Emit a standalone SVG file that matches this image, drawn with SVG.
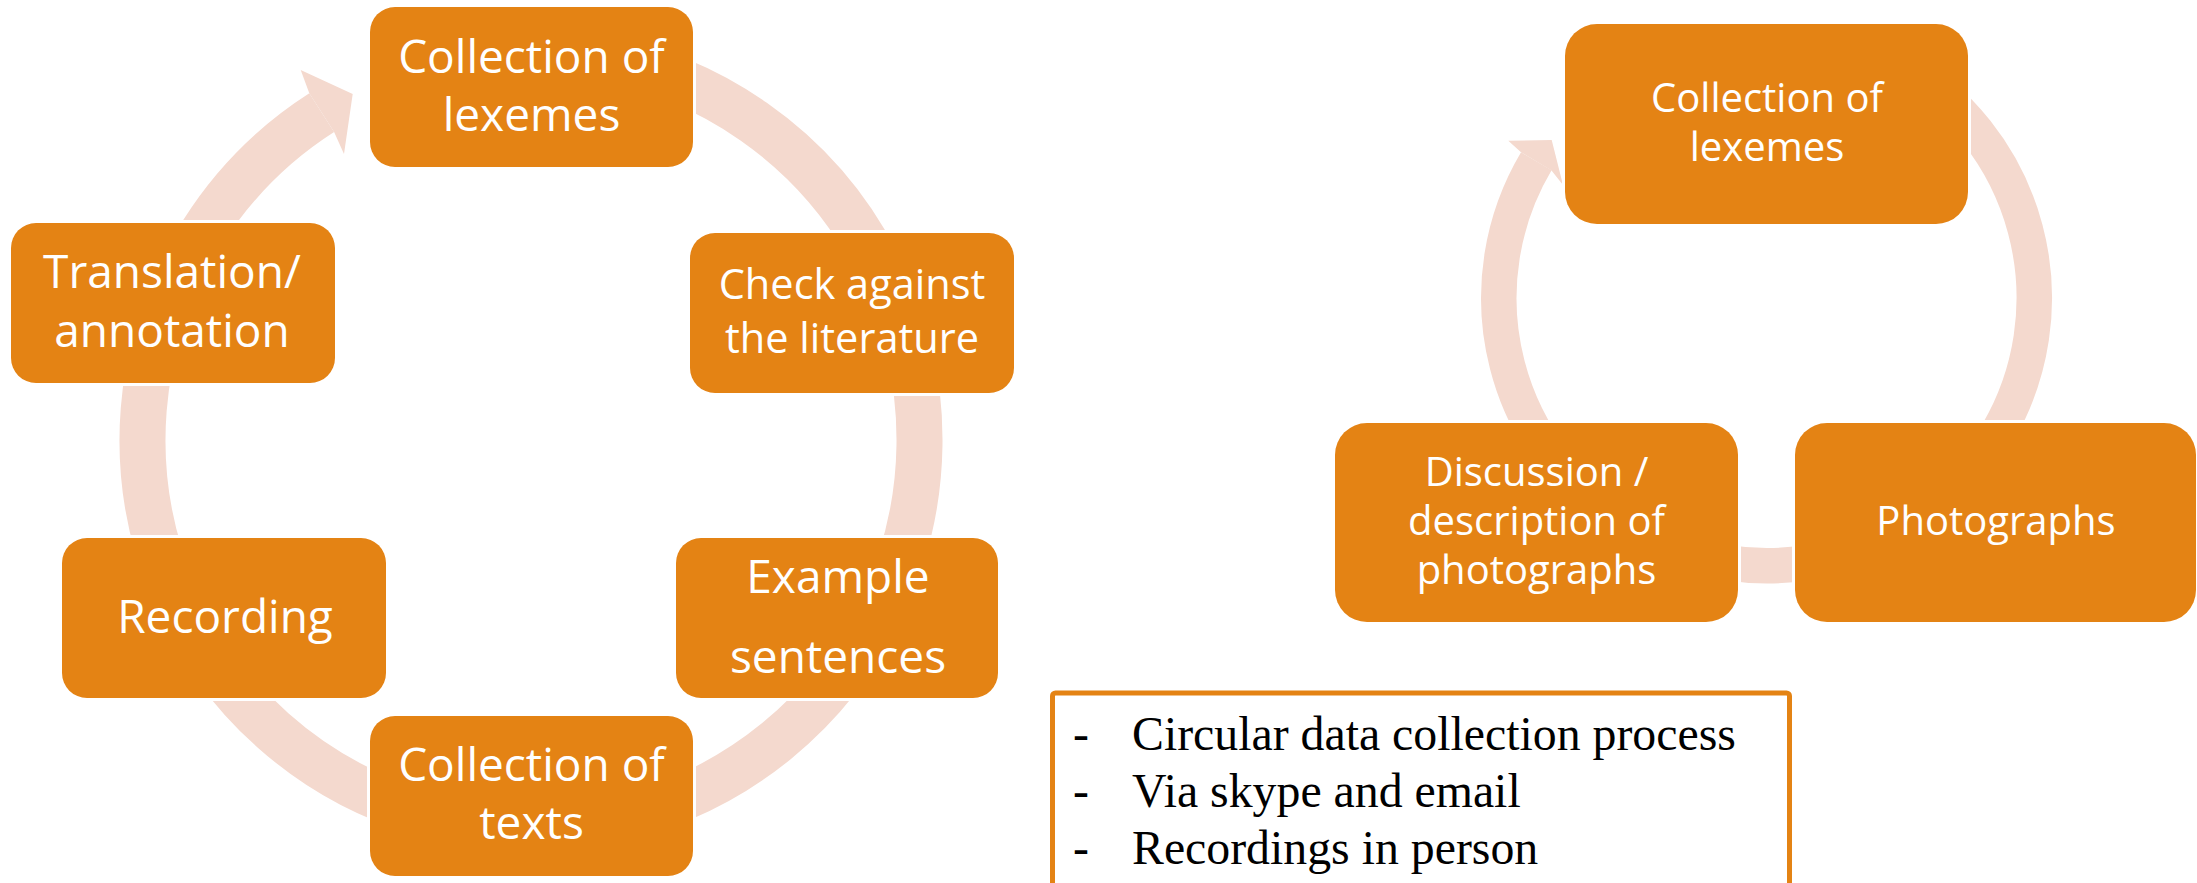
<svg xmlns="http://www.w3.org/2000/svg" width="2197" height="883" viewBox="0 0 2197 883">
<style>
.ring{fill:none;stroke:#F4D9CE;stroke-linecap:butt}
.head{fill:#F4D9CE}
.node rect{fill:#E48314;stroke:#FFFFFF;stroke-width:6;paint-order:stroke}
.lbl{font-family:"Open Sans","Liberation Sans",sans-serif;fill:#FFFFFF;text-anchor:middle}
.l1{font-size:46px}
.l2{font-size:41.5px}
.r{font-size:40px}
.note{font-family:"Liberation Serif","Times New Roman",serif;font-size:47.8px;fill:#000000}
</style>
<rect x="0" y="0" width="2197" height="883" fill="#FFFFFF"/>
<g id="connectors">
  <path class="ring" stroke-width="46" d="M598.5,57.4 A388.5,388.5 0 1 1 321.7,112.7"/>
  <polygon class="head" points="309.3,93.3 300.7,70 352.7,94 344,154 334.1,132.1"/>
  <path class="ring" stroke-width="35.5" d="M1900.4,66.1 A267.75,267.75 0 1 1 1536.3,161.3"/>
  <polygon class="head" points="1521,152.3 1508.3,140.7 1551.7,140 1563,185 1551.5,170.4"/>
</g>
<g id="node-lexemes-left" class="node">
  <rect x="370" y="7" width="323" height="160" rx="25" ry="25"/>
  <text class="lbl l1"><tspan x="531.5" y="73">Collection of</tspan><tspan x="531.5" y="131">lexemes</tspan></text>
</g>
<g id="node-check" class="node">
  <rect x="690" y="233" width="324" height="160" rx="25" ry="25"/>
  <text class="lbl l2"><tspan x="852" y="299">Check against</tspan><tspan x="852" y="353">the literature</tspan></text>
</g>
<g id="node-example" class="node">
  <rect x="676" y="538" width="322" height="160" rx="25" ry="25"/>
  <text class="lbl l1"><tspan x="838" y="593">Example</tspan><tspan x="838" y="673">sentences</tspan></text>
</g>
<g id="node-texts" class="node">
  <rect x="370" y="716" width="323" height="160" rx="25" ry="25"/>
  <text class="lbl l1"><tspan x="531.5" y="781">Collection of</tspan><tspan x="531.5" y="839">texts</tspan></text>
</g>
<g id="node-recording" class="node">
  <rect x="62" y="538" width="324" height="160" rx="25" ry="25"/>
  <text class="lbl l1" x="225" y="633">Recording</text>
</g>
<g id="node-translation" class="node">
  <rect x="11" y="223" width="324" height="160" rx="25" ry="25"/>
  <text class="lbl l1"><tspan x="172" y="288">Translation/</tspan><tspan x="172" y="347">annotation</tspan></text>
</g>
<g id="node-lexemes-right" class="node">
  <rect x="1565" y="24" width="403" height="200" rx="32" ry="32"/>
  <text class="lbl r"><tspan x="1767" y="112">Collection of</tspan><tspan x="1767" y="161">lexemes</tspan></text>
</g>
<g id="node-photographs" class="node">
  <rect x="1795" y="423" width="401" height="199" rx="32" ry="32"/>
  <text class="lbl r" x="1996" y="535">Photographs</text>
</g>
<g id="node-discussion" class="node">
  <rect x="1335" y="423" width="403" height="199" rx="32" ry="32"/>
  <text class="lbl r"><tspan x="1536.5" y="486">Discussion /</tspan><tspan x="1536.5" y="535">description of</tspan><tspan x="1536.5" y="584">photographs</tspan></text>
</g>
<g id="notes">
  <rect x="1052.5" y="693" width="737" height="220" rx="3" ry="3" fill="#FFFFFF" stroke="#E48314" stroke-width="5"/>
  <text class="note" x="1073" y="750">-</text>
  <text class="note" x="1132" y="750">Circular data collection process</text>
  <text class="note" x="1073" y="807">-</text>
  <text class="note" x="1132" y="807">Via skype and email</text>
  <text class="note" x="1073" y="864">-</text>
  <text class="note" x="1132" y="864">Recordings in person</text>
</g>
</svg>
